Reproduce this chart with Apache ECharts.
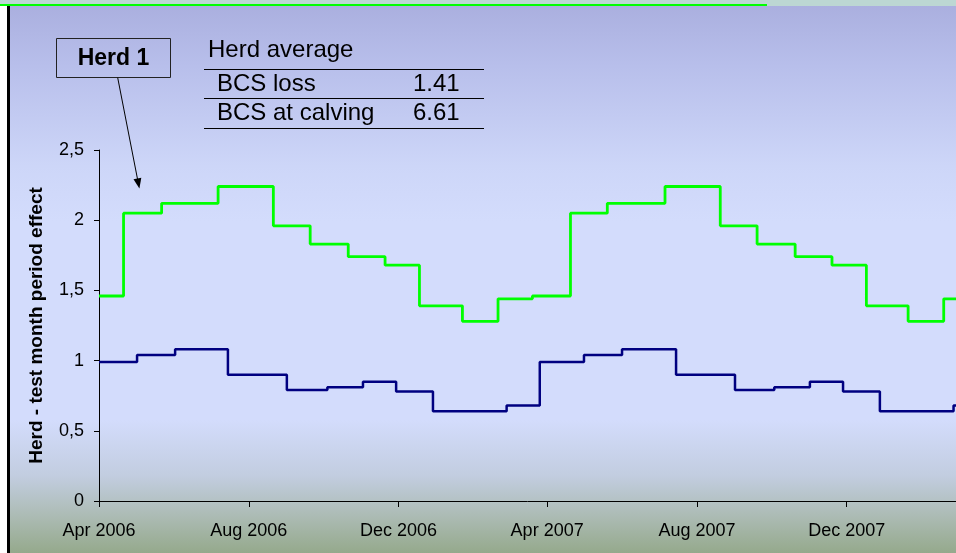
<!DOCTYPE html>
<html lang="en" style="height: 100%">
<head>
  <meta charset="utf-8">
  <script src="https://cdn.jsdelivr.net/npm/echarts@6/dist/echarts.min.js"></script>
</head>
<body style="height: 100%; margin: 0">
  <div id="container" style="width: 956px; height: 553px"></div>

  <script type="text/javascript">
    // test dates where the herd effect changes, and the value from that date on
    const greenDates = [
      '2006-04-01', '2006-04-21', '2006-05-22', '2006-07-07', '2006-08-21', '2006-09-20',
      '2006-10-21', '2006-11-20', '2006-12-18', '2007-01-22', '2007-02-20', '2007-03-20',
      '2007-04-20', '2007-05-20', '2007-07-06', '2007-08-20', '2007-09-19', '2007-10-20',
      '2007-11-19', '2007-12-17', '2008-01-20', '2008-02-18', '2008-02-28'
    ];
    const greenValues = [
      1.46, 2.05, 2.12, 2.24, 1.96, 1.83,
      1.74, 1.68, 1.39, 1.28, 1.44, 1.46,
      2.05, 2.12, 2.24, 1.96, 1.83, 1.74,
      1.68, 1.39, 1.28, 1.44, 1.44
    ];
    const blueDates = [
      '2006-04-01', '2006-05-02', '2006-06-02', '2006-07-15', '2006-09-01', '2006-10-04',
      '2006-11-02', '2006-11-29', '2006-12-29', '2007-02-27', '2007-03-26', '2007-05-01',
      '2007-06-01', '2007-07-15', '2007-09-01', '2007-10-03', '2007-11-01', '2007-11-28',
      '2007-12-28', '2008-02-26', '2008-02-28'
    ];
    const blueValues = [
      0.99, 1.04, 1.08, 0.90, 0.79, 0.81,
      0.85, 0.78, 0.64, 0.68, 0.99, 1.04,
      1.08, 0.90, 0.79, 0.81, 0.85, 0.78,
      0.64, 0.68, 0.68
    ];

    const xTickDates = ['2006-04-01', '2006-08-01', '2006-12-01', '2007-04-01', '2007-08-01', '2007-12-01'];
    const xTickLabels = ['Apr 2006', 'Aug 2006', 'Dec 2006', 'Apr 2007', 'Aug 2007', 'Dec 2007'];
    const yTickLabels = ['0', '0,5', '1', '1,5', '2', '2,5'];

    const tableRows = [['BCS loss', '1.41'], ['BCS at calving', '6.61']];

    // dates -> timestamps, the x axis is a plain value axis over them
    function ts(s) {
      const p = s.split('-').map(Number);
      return Date.UTC(p[0], p[1] - 1, p[2]);
    }
    const xTicks = xTickDates.map(ts);

    const FONT = '"Liberation Sans", Arial, sans-serif';

    var dom = document.getElementById('container');
    var myChart = echarts.init(dom, null, { renderer: 'canvas' });

    const graphics = [
      // strip at the very top
      { type: 'rect', shape: { x: 0, y: 0, width: 956, height: 6 }, style: { fill: '#bcd7d3' }, silent: true },
      { type: 'line', shape: { x1: 0, y1: 5, x2: 767, y2: 5 }, style: { stroke: '#00ff00', lineWidth: 2 }, silent: true },
      // left margin + border
      { type: 'rect', shape: { x: 0, y: 6, width: 7, height: 547 }, style: { fill: '#ffffff' }, silent: true },
      { type: 'rect', shape: { x: 7, y: 6, width: 3, height: 547 }, style: { fill: '#000000' }, silent: true },
      // Herd 1 box
      { type: 'rect', shape: { x: 56.5, y: 38.5, width: 114, height: 39 }, style: { fill: 'none', stroke: '#222', lineWidth: 1 } },
      { type: 'text', x: 113.5, y: 58.5, style: { text: 'Herd 1', font: 'bold 23px ' + FONT, fill: '#000', align: 'center', verticalAlign: 'middle' } },
      // arrow
      { type: 'line', shape: { x1: 117.7, y1: 77.7, x2: 137.6, y2: 179.5 }, style: { stroke: '#000', lineWidth: 1 } },
      { type: 'polygon', shape: { points: [[133.5, 179.3], [141.3, 177.7], [139.4, 188.5]] }, style: { fill: '#000' } },
      // herd average table
      { type: 'text', x: 208, y: 50, style: { text: 'Herd average', font: '24px ' + FONT, fill: '#000', verticalAlign: 'middle' } },
      { type: 'line', shape: { x1: 204, y1: 69.5, x2: 484, y2: 69.5 }, style: { stroke: '#000', lineWidth: 1 } },
      { type: 'line', shape: { x1: 204, y1: 98.5, x2: 484, y2: 98.5 }, style: { stroke: '#000', lineWidth: 1 } },
      { type: 'line', shape: { x1: 204, y1: 128.5, x2: 484, y2: 128.5 }, style: { stroke: '#000', lineWidth: 1 } }
    ];
    tableRows.forEach(function (row, i) {
      const cy = 84.5 + i * 29;
      graphics.push({ type: 'text', x: 217, y: cy, style: { text: row[0], font: '24px ' + FONT, fill: '#000', verticalAlign: 'middle' } });
      graphics.push({ type: 'text', x: 413, y: cy, style: { text: row[1], font: '24px ' + FONT, fill: '#000', verticalAlign: 'middle' } });
    });

    var option = {
      animation: false,
      backgroundColor: {
        type: 'linear', x: 0, y: 0, x2: 0, y2: 1,
        colorStops: [
          { offset: 0, color: '#a9aede' },
          { offset: 0.12, color: '#b8bfeb' },
          { offset: 0.3, color: '#cdd6f8' },
          { offset: 0.4, color: '#d3dcfc' },
          { offset: 0.76, color: '#d3dcfc' },
          { offset: 0.86, color: '#c2cde0' },
          { offset: 0.93, color: '#adbcb6' },
          { offset: 1, color: '#95a98c' }
        ]
      },
      grid: { left: 99, right: 0, top: 150, bottom: 52 },
      xAxis: {
        type: 'value',
        min: ts('2006-04-01'),
        max: ts('2008-02-28'),
        axisLine: { show: true, lineStyle: { color: '#000', width: 1 } },
        axisTick: { show: true, length: 6, customValues: xTicks, lineStyle: { color: '#000' } },
        axisLabel: {
          customValues: xTicks,
          color: '#000',
          fontFamily: FONT,
          fontSize: 18,
          margin: 21,
          formatter: function (v) {
            const i = xTicks.indexOf(v);
            return i >= 0 ? xTickLabels[i] : '';
          }
        },
        splitLine: { show: false }
      },
      yAxis: {
        type: 'value',
        min: 0,
        max: 2.5,
        interval: 0.5,
        name: 'Herd - test month period effect',
        nameLocation: 'middle',
        nameRotate: 90,
        nameGap: 53,
        nameTextStyle: { color: '#000', fontFamily: FONT, fontSize: 19, fontWeight: 'bold' },
        axisLine: { show: true, lineStyle: { color: '#000', width: 1 } },
        axisTick: { show: true, length: 5, lineStyle: { color: '#000' } },
        axisLabel: {
          color: '#000',
          fontFamily: FONT,
          fontSize: 18,
          margin: 15,
          formatter: function (v) {
            return yTickLabels[Math.round(v / 0.5)];
          }
        },
        splitLine: { show: false }
      },
      series: [
        {
          type: 'line',
          step: 'end',
          showSymbol: false,
          data: greenDates.map(function (d, i) { return [ts(d), greenValues[i]]; }),
          lineStyle: { color: '#00ff00', width: 2.8 },
          itemStyle: { color: '#00ff00' },
          z: 3
        },
        {
          type: 'line',
          step: 'end',
          showSymbol: false,
          data: blueDates.map(function (d, i) { return [ts(d), blueValues[i]]; }),
          lineStyle: { color: '#000080', width: 2.5 },
          itemStyle: { color: '#000080' },
          z: 3
        }
      ],
      graphic: { elements: graphics }
    };

    myChart.setOption(option);
    window.addEventListener('resize', myChart.resize);
  </script>
</body>
</html>
